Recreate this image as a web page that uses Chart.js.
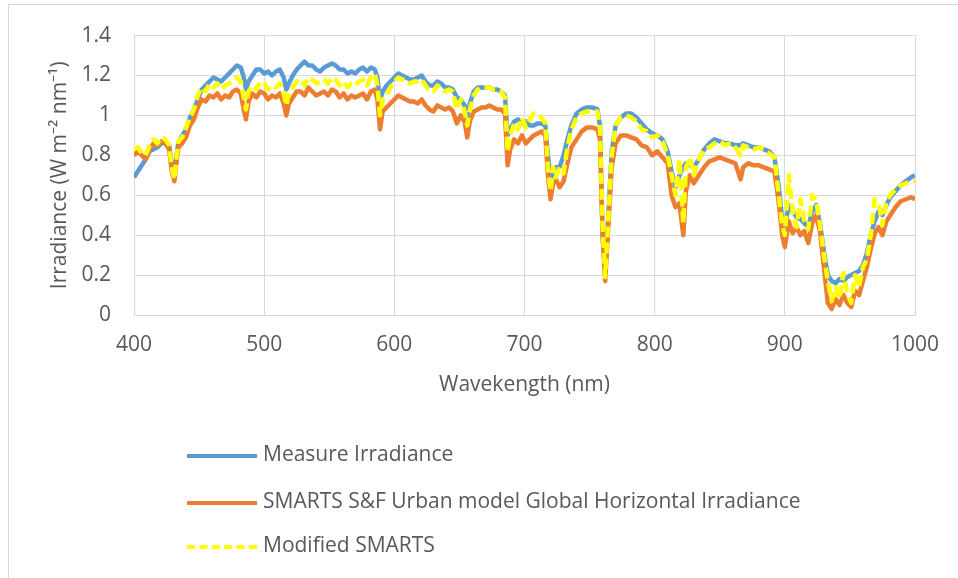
<!DOCTYPE html>
<html>
<head>
<meta charset="utf-8">
<script src="https://cdn.jsdelivr.net/npm/chart.js"></script>
<style>
  body { margin: 0; background: #fff; font-family: "Open Sans", sans-serif; }
  #wrap { position: relative; width: 958px; height: 578px; overflow: hidden; }
  #frame { position: absolute; left: 8px; top: 4px; width: 1000px; height: 700px;
           border-left: 1px solid #d9d9d9; border-top: 1px solid #d9d9d9; }
  canvas { position: absolute; left: 0; top: 0; }
  .leg { position: absolute; left: 187px; height: 24px; font-size: 21px; color: #595959; }
  .leg .sw { position: absolute; left: 0; top: 10px; width: 70px; height: 0; border-top: 4px solid; }
  .leg span { position: absolute; left: 76px; top: -5px; white-space: nowrap; }
</style>
</head>
<body>
<div id="wrap">
  <div id="frame"></div>
  <canvas id="irrChart" width="958" height="578"></canvas>
  <div class="leg" style="top:444px"><div class="sw" style="border-color:#5b9bd5"></div><span>Measure Irradiance</span></div>
  <div class="leg" style="top:491px"><div class="sw" style="border-color:#ed7d31"></div><span>SMARTS S&amp;F Urban model Global Horizontal Irradiance</span></div>
  <div class="leg" style="top:535px"><div class="sw" style="border-top:4px dashed #ffff00"></div><span>Modified SMARTS</span></div>
</div>
<script>
// wavelengths (nm)
const wavelengths = [
  400,403,406,409,412,415,418,421,424,427,
  429,431,434,437,440,443,446,449,452,455,
  458,461,464,467,470,473,476,479,482,484,
  486,488,491,494,497,500,503,506,509,512,
  515,517,519,522,525,528,531,534,537,540,
  543,546,549,552,555,558,561,564,567,570,
  573,576,579,582,585,587,589,591,594,597,
  600,603,606,609,612,615,618,621,624,627,
  630,633,636,639,642,645,648,651,654,656,
  658,661,664,667,670,673,676,679,682,685,
  687,689,692,695,698,701,704,707,710,713,
  716,718,720,722,724,727,730,733,736,740,
  744,748,752,756,758,760,762,764,767,770,
  774,778,782,786,790,794,798,802,806,810,
  813,816,819,822,824,827,830,834,838,842,
  846,850,854,858,862,866,868,872,876,880,
  884,888,892,895,898,900,903,906,909,912,
  915,918,921,924,927,930,933,936,939,942,
  945,948,951,954,957,960,963,966,969,972,
  975,978,981,985,989,993,997,1000
];

const measured = [
  .69,.72,.75,.78,.82,.83,.84,.86,.86,.85,
  .76,.72,.86,.90,.93,.99,1.03,1.08,1.13,1.15,
  1.17,1.19,1.18,1.17,1.19,1.21,1.23,1.25,1.24,1.20,
  1.13,1.17,1.20,1.23,1.23,1.21,1.22,1.20,1.22,1.23,
  1.19,1.13,1.16,1.20,1.23,1.25,1.27,1.25,1.25,1.23,
  1.22,1.24,1.25,1.26,1.25,1.23,1.23,1.21,1.22,1.21,
  1.23,1.24,1.22,1.24,1.23,1.19,1.07,1.12,1.15,1.17,
  1.19,1.21,1.20,1.19,1.18,1.18,1.19,1.20,1.17,1.15,
  1.15,1.17,1.16,1.14,1.14,1.13,1.09,1.08,1.05,0.99,
  1.06,1.12,1.14,1.14,1.14,1.14,1.13,1.13,1.12,1.10,
  0.90,0.93,0.97,0.98,0.96,0.97,0.95,0.95,0.96,0.96,
  0.95,0.80,0.68,0.72,0.74,0.74,0.80,0.88,0.95,1.01,
  1.03,1.04,1.04,1.03,0.95,0.40,0.20,0.45,0.82,0.95,
  0.99,1.01,1.01,0.99,0.96,0.93,0.91,0.90,0.88,0.82,
  0.72,0.64,0.70,0.74,0.76,0.75,0.74,0.78,0.83,0.86,
  0.88,0.87,0.86,0.86,0.85,0.85,0.86,0.85,0.84,0.84,
  0.83,0.82,0.79,0.66,0.48,0.44,0.55,0.52,0.49,0.48,
  0.46,0.44,0.52,0.55,0.46,0.32,0.20,0.17,0.16,0.18,
  0.17,0.19,0.20,0.21,0.22,0.25,0.31,0.40,0.47,0.52,
  0.50,0.55,0.59,0.62,0.65,0.67,0.69,0.70
];

const smarts = [
  .80,.82,.80,.78,.83,.86,.85,.87,.86,.83,
  .72,.67,.84,.86,.89,.95,.98,1.04,1.08,1.07,
  1.10,1.09,1.11,1.08,1.10,1.09,1.12,1.13,1.11,1.04,
  0.98,1.07,1.11,1.09,1.12,1.11,1.08,1.10,1.09,1.11,
  1.06,1.00,1.06,1.09,1.12,1.12,1.10,1.14,1.12,1.10,
  1.11,1.12,1.10,1.13,1.12,1.09,1.11,1.08,1.10,1.09,
  1.10,1.11,1.08,1.12,1.13,1.08,0.93,1.02,1.04,1.06,
  1.08,1.10,1.09,1.08,1.07,1.07,1.06,1.08,1.05,1.03,
  1.02,1.05,1.04,1.03,1.04,1.02,0.96,1.00,0.97,0.89,
  0.97,1.02,1.03,1.04,1.04,1.05,1.04,1.03,1.03,1.01,
  0.75,0.83,0.88,0.86,0.90,0.86,0.88,0.90,0.91,0.92,
  0.90,0.70,0.58,0.66,0.68,0.64,0.67,0.76,0.84,0.88,
  0.92,0.94,0.94,0.93,0.88,0.40,0.17,0.40,0.74,0.86,
  0.90,0.90,0.89,0.88,0.85,0.84,0.80,0.82,0.79,0.76,
  0.60,0.54,0.56,0.40,0.62,0.70,0.66,0.70,0.74,0.77,
  0.78,0.79,0.78,0.77,0.76,0.68,0.74,0.76,0.75,0.75,
  0.74,0.73,0.72,0.58,0.40,0.34,0.47,0.41,0.44,0.40,
  0.42,0.36,0.46,0.50,0.42,0.24,0.06,0.03,0.08,0.05,
  0.10,0.06,0.04,0.12,0.10,0.17,0.24,0.33,0.41,0.44,
  0.40,0.47,0.50,0.54,0.57,0.58,0.59,0.58
];

const modified = [
  .83,.84,.81,.80,.85,.88,.86,.89,.88,.85,
  .74,.68,.87,.89,.94,.99,1.03,1.10,1.14,1.12,
  1.16,1.14,1.16,1.13,1.15,1.16,1.18,1.19,1.17,1.10,
  1.03,1.12,1.15,1.13,1.17,1.16,1.13,1.15,1.14,1.16,
  1.11,1.05,1.11,1.14,1.17,1.18,1.15,1.19,1.18,1.16,
  1.17,1.18,1.16,1.19,1.18,1.15,1.17,1.14,1.16,1.15,
  1.17,1.18,1.15,1.19,1.21,1.15,1.00,1.08,1.10,1.14,
  1.17,1.19,1.18,1.18,1.16,1.17,1.17,1.18,1.15,1.12,
  1.12,1.15,1.14,1.12,1.13,1.12,1.03,1.08,1.02,0.95,
  1.03,1.10,1.13,1.14,1.14,1.14,1.13,1.13,1.12,1.09,
  0.82,0.90,0.96,0.93,0.99,0.94,0.98,1.01,1.00,0.99,
  0.96,0.74,0.62,0.74,0.69,0.74,0.71,0.84,0.93,0.99,
  1.01,1.02,1.02,1.02,0.93,0.45,0.19,0.43,0.80,0.95,
  0.99,1.00,0.99,0.97,0.93,0.92,0.89,0.90,0.87,0.80,
  0.70,0.60,0.78,0.46,0.74,0.79,0.70,0.78,0.83,0.84,
  0.86,0.87,0.85,0.86,0.84,0.80,0.85,0.84,0.83,0.84,
  0.83,0.81,0.79,0.62,0.45,0.40,0.70,0.52,0.44,0.58,
  0.47,0.43,0.60,0.58,0.45,0.30,0.17,0.07,0.14,0.08,
  0.21,0.11,0.06,0.20,0.14,0.24,0.28,0.40,0.58,0.56,
  0.45,0.57,0.60,0.63,0.65,0.66,0.67,0.67
];

const xTicks = [400, 500, 600, 700, 800, 900, 1000];
const yTicks = [0, 0.2, 0.4, 0.6, 0.8, 1, 1.2, 1.4];

function toPoints(values) {
  return wavelengths.map((w, i) => ({ x: w, y: values[i] }));
}

const gridColor = "#d9d9d9";
const textColor = "#595959";

var ctx = document.getElementById("irrChart").getContext("2d");

new Chart(ctx, {
  type: "line",
  data: {
    datasets: [
      {
        label: "Measure Irradiance",
        data: toPoints(measured),
        borderColor: "#5b9bd5",
        borderWidth: 4.5,
        order: 3,
      },
      {
        label: "SMARTS S&F Urban model Global Horizontal Irradiance",
        data: toPoints(smarts),
        borderColor: "#ed7d31",
        borderWidth: 4.5,
        order: 2,
      },
      {
        label: "Modified SMARTS",
        data: toPoints(modified),
        borderColor: "#ffff00",
        borderWidth: 4.5,
        borderDash: [11, 5],
        order: 1,
      },
    ],
  },
  options: {
    responsive: false,
    animation: false,
    layout: { padding: { left: 0, top: 33, right: 43, bottom: 180 } },
    elements: {
      point: { radius: 0 },
      line: { tension: 0, borderJoinStyle: "round" },
    },
    scales: {
      x: {
        type: "linear",
        min: 400,
        max: 1000,
        afterBuildTicks: (scale) => { scale.ticks = xTicks.map((v) => ({ value: v })); },
        afterFit: (scale) => { scale.height = 83; },
        grid: { color: gridColor, drawTicks: false },
        border: { color: gridColor },
        ticks: {
          color: textColor,
          padding: 17,
          font: { family: "Open Sans", size: 21 },
          callback: (value) => String(value),
        },
        title: {
          display: true,
          text: "Wavekength (nm)",
          color: textColor,
          font: { family: "Open Sans", size: 21 },
          padding: { top: 0, bottom: 0 },
        },
      },
      y: {
        min: 0,
        max: 1.4,
        afterBuildTicks: (scale) => { scale.ticks = yTicks.map((v) => ({ value: v })); },
        afterFit: (scale) => { scale.width = 134; },
        grid: { color: gridColor, drawTicks: false },
        border: { color: gridColor },
        ticks: {
          color: textColor,
          padding: 23,
          font: { family: "Open Sans", size: 21 },
          callback: (value) => String(Math.round(value * 10) / 10),
        },
        title: {
          display: true,
          text: "Irradiance (W m\u207B\u00B2 nm\u207B\u00B9)",
          color: textColor,
          font: { family: "Open Sans", size: 21 },
          padding: { top: 47, bottom: 0 },
        },
      },
    },
    plugins: {
      legend: { display: false },
      tooltip: { enabled: false },
    },
  },
});
</script>
</body>
</html>
